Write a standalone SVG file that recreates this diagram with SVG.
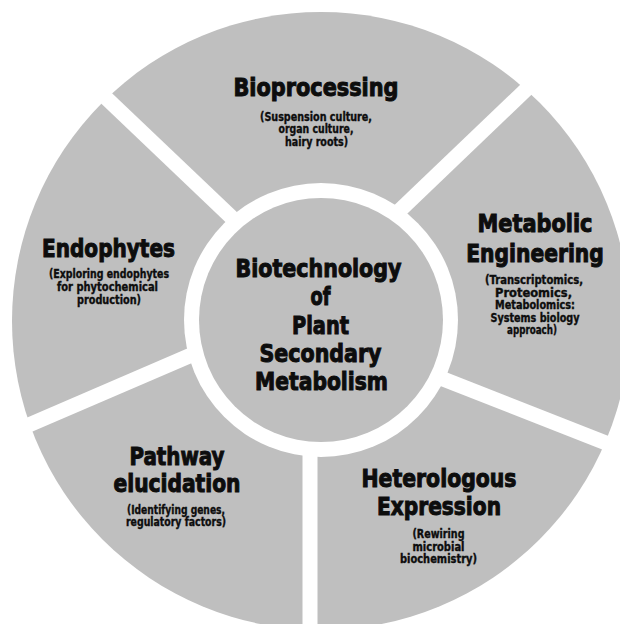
<svg xmlns="http://www.w3.org/2000/svg" width="620" height="624" viewBox="0 0 620 624">
  <style>
    .seg { fill: #bfbfbf; }
    .sep { stroke: #ffffff; stroke-width: 15; stroke-linecap: butt; fill: none; }
    text { font-family: "Liberation Sans Narrow", "DejaVu Sans Condensed", "Liberation Sans", sans-serif; font-weight: bold; fill: #0d0d0d; text-anchor: middle; }
    .t { font-size: 25.5px; stroke: #0d0d0d; stroke-width: 1px; }
    .c { font-size: 25.5px; stroke: #0d0d0d; stroke-width: 1px; }
    .s { font-size: 11.5px; stroke: #0d0d0d; stroke-width: 0.35px; }
  </style>
  <rect x="0" y="0" width="620" height="624" fill="#ffffff"/>
  <g id="ring">
    <circle class="seg" cx="321" cy="321" r="309"/>
    <circle cx="321" cy="320" r="137" fill="#ffffff"/>
  </g>
  <g id="connectors">
    <line class="sep" x1="78.5" y1="71.6" x2="236.4" y2="222"/>
    <line class="sep" x1="554.7" y1="62.1" x2="396" y2="214"/>
    <line class="sep" x1="438" y1="377" x2="652" y2="461"/>
    <line class="sep" x1="310" y1="449.5" x2="310" y2="640"/>
    <line class="sep" x1="196" y1="353" x2="-6" y2="440"/>
  </g>
  <g id="center">
    <circle class="seg" cx="321" cy="320" r="122"/>
    <text class="c" x="318.5" y="277" textLength="166" lengthAdjust="spacingAndGlyphs">Biotechnology</text>
    <text class="c" x="320.5" y="305.3" textLength="20" lengthAdjust="spacingAndGlyphs">of</text>
    <text class="c" x="320.5" y="333.6" textLength="57" lengthAdjust="spacingAndGlyphs">Plant</text>
    <text class="c" x="320.5" y="361.9" textLength="122" lengthAdjust="spacingAndGlyphs">Secondary</text>
    <text class="c" x="321.5" y="390.2" textLength="133" lengthAdjust="spacingAndGlyphs">Metabolism</text>
  </g>
  <g id="bioprocessing">
    <text class="t" x="316" y="95.5" textLength="165" lengthAdjust="spacingAndGlyphs">Bioprocessing</text>
    <text class="s" x="316" y="120.5" textLength="112" lengthAdjust="spacingAndGlyphs">(Suspension culture,</text>
    <text class="s" x="316" y="133" textLength="75" lengthAdjust="spacingAndGlyphs">organ culture,</text>
    <text class="s" x="316.5" y="145.5" textLength="63" lengthAdjust="spacingAndGlyphs">hairy roots)</text>
  </g>
  <g id="metabolic-engineering">
    <text class="t" x="535" y="231.5" textLength="115" lengthAdjust="spacingAndGlyphs">Metabolic</text>
    <text class="t" transform="translate(535 261.5) scale(0.8 1)" x="0" y="0" textLength="172" lengthAdjust="spacingAndGlyphs">Engineering</text>
    <text class="s" x="534" y="284" textLength="98" lengthAdjust="spacingAndGlyphs">(Transcriptomics,</text>
    <text class="s" x="533.5" y="296.5" textLength="77" lengthAdjust="spacingAndGlyphs">Proteomics,</text>
    <text class="s" x="535" y="309" textLength="80" lengthAdjust="spacingAndGlyphs">Metabolomics:</text>
    <text class="s" x="535" y="321.5" textLength="89" lengthAdjust="spacingAndGlyphs">Systems biology</text>
    <text class="s" x="532" y="334" textLength="50" lengthAdjust="spacingAndGlyphs">approach)</text>
  </g>
  <g id="endophytes">
    <text class="t" x="108.5" y="256.5" textLength="133" lengthAdjust="spacingAndGlyphs">Endophytes</text>
    <text class="s" x="109" y="278" textLength="120" lengthAdjust="spacingAndGlyphs">(Exploring endophytes</text>
    <text class="s" x="107.5" y="291" textLength="101" lengthAdjust="spacingAndGlyphs">for phytochemical</text>
    <text class="s" x="109" y="303.5" textLength="64" lengthAdjust="spacingAndGlyphs">production)</text>
  </g>
  <g id="pathway-elucidation">
    <text class="t" x="177" y="464.5" textLength="95" lengthAdjust="spacingAndGlyphs">Pathway</text>
    <text class="t" x="177" y="491.5" textLength="127" lengthAdjust="spacingAndGlyphs">elucidation</text>
    <text class="s" x="176" y="513.5" textLength="98" lengthAdjust="spacingAndGlyphs">(Identifying genes,</text>
    <text class="s" x="176" y="526" textLength="100" lengthAdjust="spacingAndGlyphs">regulatory factors)</text>
  </g>
  <g id="heterologous-expression">
    <text class="t" x="439" y="486.5" textLength="155" lengthAdjust="spacingAndGlyphs">Heterologous</text>
    <text class="t" x="439" y="515" textLength="124" lengthAdjust="spacingAndGlyphs">Expression</text>
    <text class="s" x="438.5" y="538" textLength="52" lengthAdjust="spacingAndGlyphs">(Rewiring</text>
    <text class="s" x="438.5" y="550.5" textLength="52" lengthAdjust="spacingAndGlyphs">microbial</text>
    <text class="s" x="438.5" y="563" textLength="77" lengthAdjust="spacingAndGlyphs">biochemistry)</text>
  </g>
</svg>
